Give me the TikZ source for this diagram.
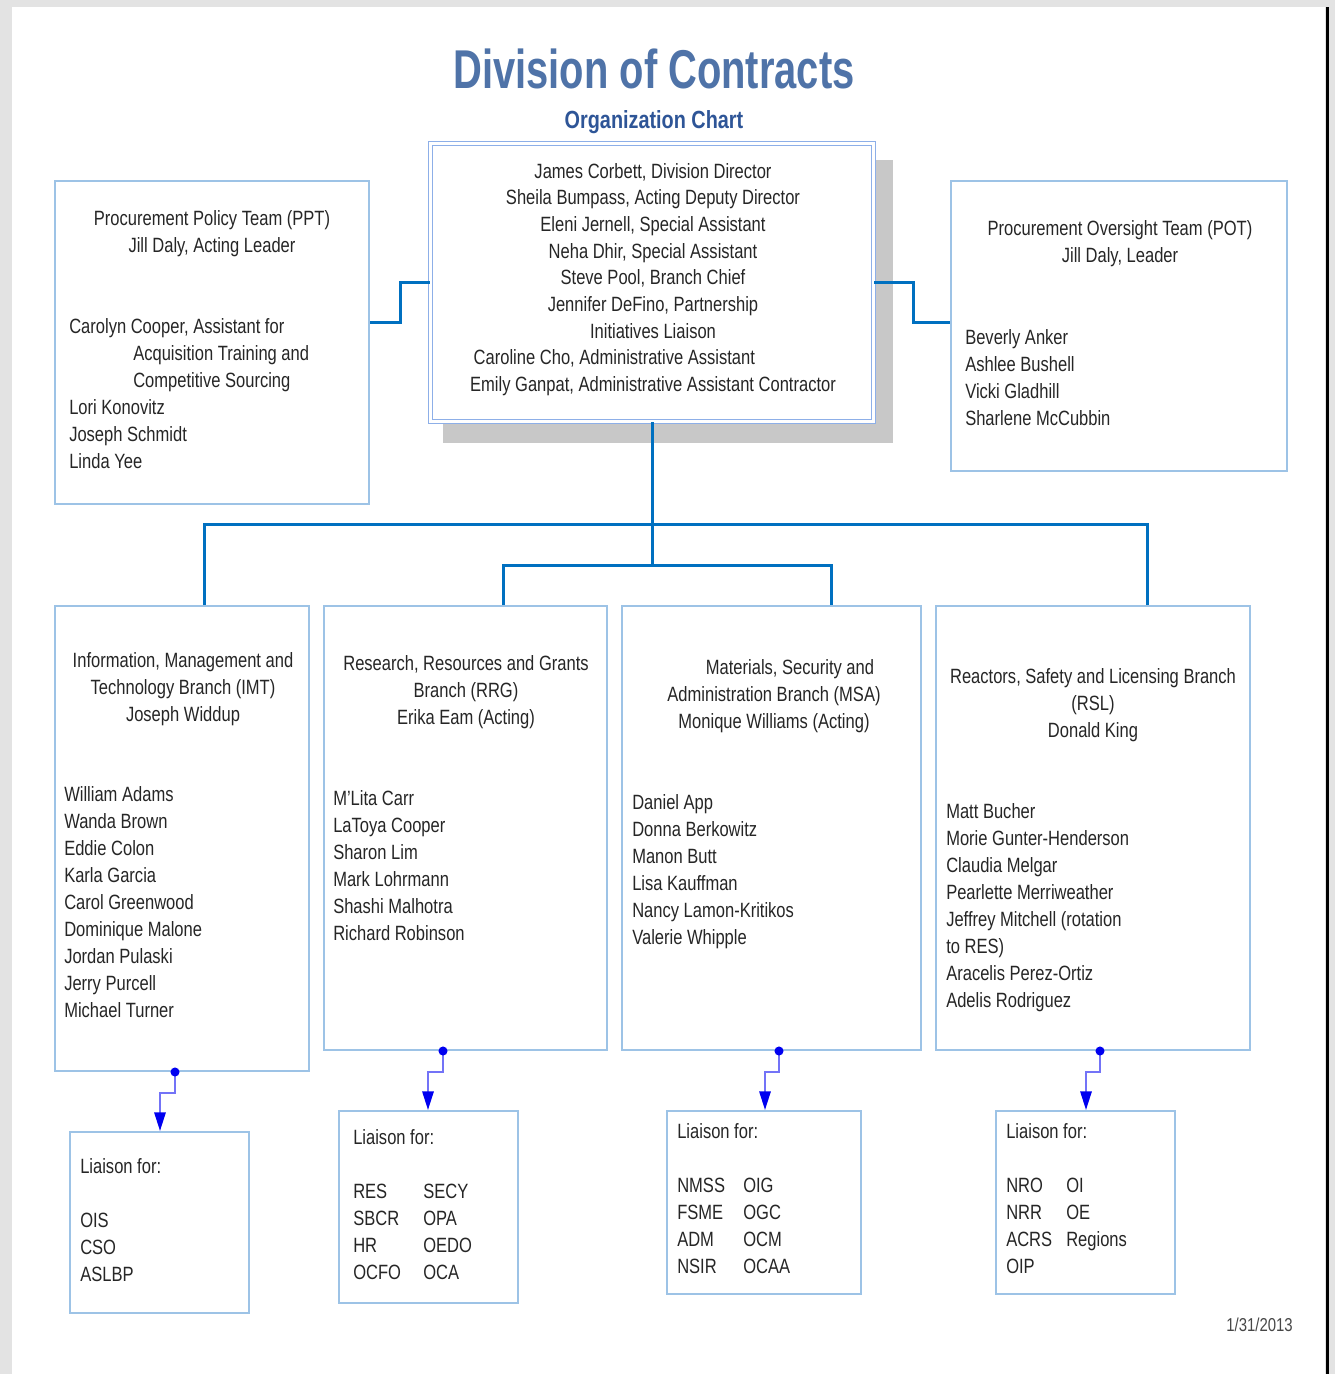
\documentclass[tikz,border=0pt]{standalone}
\usepackage{fontspec}
\setmainfont{Liberation Sans}[FakeStretch=0.8]
\newfontfamily\titolofont{Liberation Sans}[FakeStretch=0.73]
\usetikzlibrary{fit,arrows.meta}

\definecolor{bordo}{HTML}{9DC3E6}
\definecolor{linea}{HTML}{0070C0}
\definecolor{titolo}{HTML}{4F73A8}
\definecolor{sottotitolo}{HTML}{2E5597}
\definecolor{testo}{HTML}{262626}
\definecolor{ombra}{HTML}{C8C8C8}
\definecolor{liaison}{HTML}{0000F0}

\newcommand{\liarow}[3]{\makebox[#1][l]{#2}#3}

\tikzset{
  riquadro/.style={draw=bordo, line width=1.5pt, inner sep=0pt, fill=white},
  linkblu/.style={draw=linea, line width=2.25pt},
  freccia/.style={draw=liaison!55, line width=1.5pt, -{Triangle[width=8.5pt,length=14pt,color=liaison]}},
  testobox/.style={inner sep=0pt, text=testo, font=\fontsize{15.5}{20.25}\selectfont},
}

\begin{document}
\begin{tikzpicture}[x=0.75pt,y=-0.75pt]
    \useasboundingbox (0,0) rectangle (1335,1374);

    % Sfondo e pagina
    \fill[gray!22] (0,0) rectangle (1335,1374);
    \fill[white] (12,7) rectangle (1325,1374);
    \fill[black] (1326,7) rectangle (1329,1374);

    % Titolo
    \node[font=\titolofont\bfseries\fontsize{41}{45}\selectfont, text=titolo, anchor=base] (titolo) at (654,88) {Division of Contracts};
    \node[font=\bfseries\fontsize{18.6}{22}\selectfont, text=sottotitolo, anchor=base] (sottotitolo) at (654,128) {Organization Chart};

    % Riquadri
    \fill[ombra] (443,160) rectangle (893,443); % ombra del direttore
    \node[riquadro, draw=bordo!90!blue, line width=1pt, double=white, double distance=2pt, fit={(430.5,143.5) (873.5,421.5)}] (dir) {};
    \node[riquadro, fit={(55,181) (369,504)}] (ppt) {};
    \node[riquadro, fit={(951,181) (1287,471)}] (pot) {};
    \node[riquadro, fit={(55,606) (309,1071)}] (imt) {};
    \node[riquadro, fit={(324,606) (607,1050)}] (rrg) {};
    \node[riquadro, fit={(622,606) (921,1050)}] (msa) {};
    \node[riquadro, fit={(936,606) (1250,1050)}] (rsl) {};
    \node[riquadro, fit={(70,1132) (249,1313)}] (lia1) {};
    \node[riquadro, fit={(339,1111) (518,1303)}] (lia2) {};
    \node[riquadro, fit={(667,1111) (861,1294)}] (lia3) {};
    \node[riquadro, fit={(996,1111) (1175,1294)}] (lia4) {};

    % Collegamenti
    \draw[linkblu] (ppt.east |- 0,322) -- (400,322) |- (dir.west |- 0,282);
    \draw[linkblu] (dir.east |- 0,282) -- (913,282) |- (pot.west |- 0,322);
    \draw[linkblu] (dir.south) -- (dir.south |- 0,565);
    \draw[linkblu] (imt.north -| 204,0) -- (204,524) -- (1147,524) -- (rsl.north -| 1147,0);
    \draw[linkblu] (rrg.north -| 503,0) -- (503,565) -- (831,565) -- (msa.north -| 831,0);

    % Frecce liaison
    \draw[freccia] (imt.south -| 175,0) -- (175,1093) -| (lia1.north -| 160,0);
    \draw[freccia] (rrg.south -| 443,0) -- (443,1072) -| (lia2.north -| 428,0);
    \draw[freccia] (msa.south -| 779,0) -- (779,1072) -| (lia3.north -| 765,0);
    \draw[freccia] (rsl.south -| 1100,0) -- (1100,1072) -| (lia4.north -| 1086,0);
    \fill[liaison] (imt.south -| 175,0) circle (3.4pt);
    \fill[liaison] (rrg.south -| 443,0) circle (3.4pt);
    \fill[liaison] (msa.south -| 779,0) circle (3.4pt);
    \fill[liaison] (rsl.south -| 1100,0) circle (3.4pt);

    % Testi
    \node[testobox, font=\fontsize{15.5}{20}\selectfont, anchor=north, align=center] (dirtxt) at (653,163) {James Corbett, Division Director\\Sheila Bumpass, Acting Deputy Director\\Eleni Jernell, Special Assistant\\Neha Dhir, Special Assistant\\Steve Pool, Branch Chief\\Jennifer DeFino, Partnership\\Initiatives Liaison\\Caroline Cho, Administrative Assistant\hspace*{58pt}\mbox{}\\Emily Ganpat, Administrative Assistant Contractor};

    \node[testobox, anchor=north, align=center] (ppttit) at (212,210) {Procurement Policy Team (PPT)\\Jill Daly, Acting Leader};
    \node[testobox, anchor=north west, align=left] (pptnomi) at (69,318) {Carolyn Cooper, Assistant for\\\hspace*{48pt}Acquisition Training and\\\hspace*{48pt}Competitive Sourcing\\Lori Konovitz\\Joseph Schmidt\\Linda Yee};

    \node[testobox, anchor=north, align=center] (pottit) at (1120,220) {Procurement Oversight Team (POT)\\Jill Daly, Leader};
    \node[testobox, anchor=north west, align=left] (potnomi) at (965,329) {Beverly Anker\\Ashlee Bushell\\Vicki Gladhill\\Sharlene McCubbin};

    \node[testobox, anchor=north, align=center] (imttit) at (183,652) {Information, Management and\\Technology Branch (IMT)\\Joseph Widdup};
    \node[testobox, anchor=north west, align=left] (imtnomi) at (64,786) {William Adams\\Wanda Brown\\Eddie Colon\\Karla Garcia\\Carol Greenwood\\Dominique Malone\\Jordan Pulaski\\Jerry Purcell\\Michael Turner};

    \node[testobox, anchor=north, align=center] (rrgtit) at (466,655) {Research, Resources and Grants\\Branch (RRG)\\Erika Eam (Acting)};
    \node[testobox, anchor=north west, align=left] (rrgnomi) at (333,790) {M'Lita Carr\\LaToya Cooper\\Sharon Lim\\Mark Lohrmann\\Shashi Malhotra\\Richard Robinson};

    \node[testobox, anchor=north, align=center] (msatit) at (774,659) {\hspace*{24pt}Materials, Security and\\Administration Branch (MSA)\\Monique Williams (Acting)};
    \node[testobox, anchor=north west, align=left] (msanomi) at (632,794) {Daniel App\\Donna Berkowitz\\Manon Butt\\Lisa Kauffman\\Nancy Lamon-Kritikos\\Valerie Whipple};

    \node[testobox, anchor=north, align=center] (rsltit) at (1093,668) {Reactors, Safety and Licensing Branch\\(RSL)\\Donald King};
    \node[testobox, anchor=north west, align=left] (rslnomi) at (946,803) {Matt Bucher\\Morie Gunter-Henderson\\Claudia Melgar\\Pearlette Merriweather\\Jeffrey Mitchell (rotation\\to RES)\\Aracelis Perez-Ortiz\\Adelis Rodriguez};

    \node[testobox, anchor=north west, align=left] (lia1txt) at (80,1158) {Liaison for:\\[20.25pt]OIS\\CSO\\ASLBP};
    \node[testobox, anchor=north west, align=left] (lia2txt) at (353,1129) {Liaison for:\\[20.25pt]\liarow{52.5pt}{RES}{SECY}\\\liarow{52.5pt}{SBCR}{OPA}\\\liarow{52.5pt}{HR}{OEDO}\\\liarow{52.5pt}{OCFO}{OCA}};
    \node[testobox, anchor=north west, align=left] (lia3txt) at (677,1123) {Liaison for:\\[20.25pt]\liarow{49.5pt}{NMSS}{OIG}\\\liarow{49.5pt}{FSME}{OGC}\\\liarow{49.5pt}{ADM}{OCM}\\\liarow{49.5pt}{NSIR}{OCAA}};
    \node[testobox, anchor=north west, align=left] (lia4txt) at (1006,1123) {Liaison for:\\[20.25pt]\liarow{45pt}{NRO}{OI}\\\liarow{45pt}{NRR}{OE}\\\liarow{45pt}{ACRS}{Regions}\\OIP};

    \node[text=testo!85, font=\fontsize{14}{16}\selectfont, anchor=base east, inner sep=0pt] (data) at (1293,1331) {1/31/2013};
\end{tikzpicture}
\end{document}
